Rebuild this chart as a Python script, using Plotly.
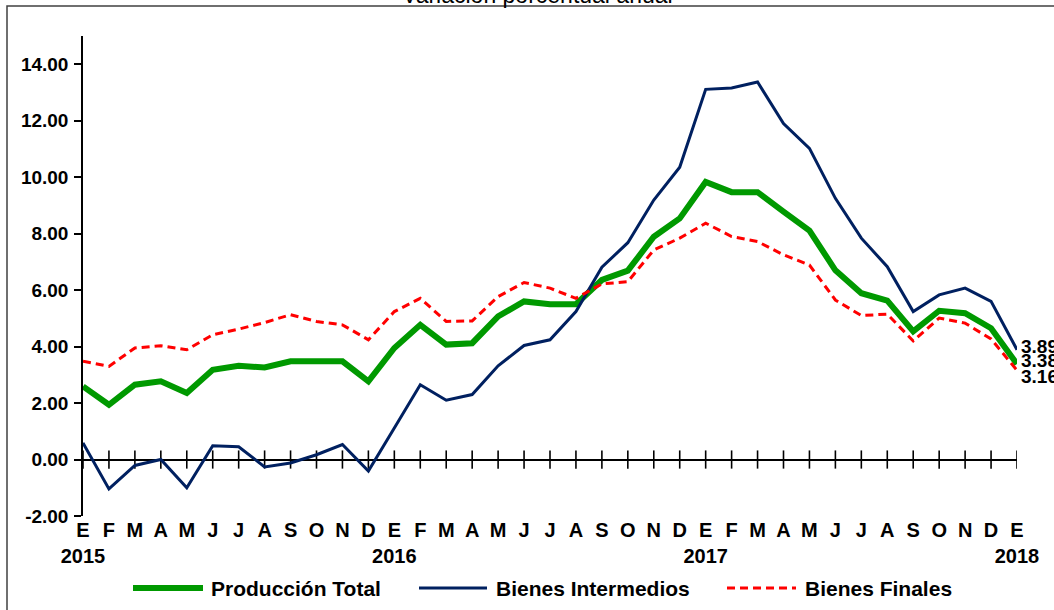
import plotly.graph_objects as go

# ---- data ----
meses = ["E", "F", "M", "A", "M", "J", "J", "A", "S", "O", "N", "D"] * 3 + ["E"]
anios = {0: "2015", 12: "2016", 24: "2017", 36: "2018"}

produccion_total = [2.59, 1.94, 2.65, 2.77, 2.36, 3.18, 3.32, 3.26, 3.48, 3.48,
                    3.48, 2.77, 3.95, 4.77, 4.07, 4.12, 5.07, 5.60, 5.50, 5.50,
                    6.36, 6.69, 7.89, 8.54, 9.83, 9.47, 9.47, 8.78, 8.11, 6.70,
                    5.89, 5.63, 4.54, 5.27, 5.18, 4.65, 3.38]
bienes_intermedios = [0.59, -1.04, -0.21, 0.00, -1.00, 0.49, 0.45, -0.26, -0.12, 0.17,
                      0.53, -0.41, 1.12, 2.65, 2.10, 2.30, 3.32, 4.04, 4.24, 5.24,
                      6.81, 7.68, 9.19, 10.35, 13.11, 13.16, 13.37, 11.90, 11.02, 9.25,
                      7.84, 6.83, 5.24, 5.83, 6.07, 5.60, 3.89]
bienes_finales = [3.48, 3.30, 3.95, 4.03, 3.89, 4.42, 4.62, 4.85, 5.13, 4.89,
                  4.77, 4.24, 5.24, 5.71, 4.89, 4.91, 5.77, 6.27, 6.07, 5.71,
                  6.22, 6.30, 7.42, 7.84, 8.37, 7.90, 7.72, 7.25, 6.89, 5.65,
                  5.10, 5.15, 4.20, 5.01, 4.83, 4.27, 3.16]
y_ticks = [-2, 0, 2, 4, 6, 8, 10, 12, 14]

x = list(range(len(meses)))
ticktext = [m + ("<br>" + anios[i] if i in anios else "") for i, m in enumerate(meses)]

FONT = "Liberation Sans, Arial, sans-serif"
GREEN = "#009900"
NAVY = "#002060"
RED = "#FF0000"

series = [
    ("Producción Total", produccion_total, dict(color=GREEN, width=6)),
    ("Bienes Intermedios", bienes_intermedios, dict(color=NAVY, width=3)),
    ("Bienes Finales", bienes_finales, dict(color=RED, width=3, dash="8px,5px")),
]

fig = go.Figure()

# tick marks crossing the zero line
fig.add_trace(go.Scatter(
    x=x, y=[0] * len(x), mode="markers", hoverinfo="skip", showlegend=False,
    marker=dict(symbol="line-ns", size=13, line=dict(color="black", width=1.6)),
))

for name, vals, line in series:
    fig.add_trace(go.Scatter(x=x, y=vals, mode="lines", name=name, line=line,
                             showlegend=False))

# layout geometry (pixels)
W, H = 1054, 610
ML, MR, MT, MB = 83, 37, 36, 94
pw, ph = W - ML - MR, H - MT - MB


def px(xp):
    return (xp - ML) / pw


def py(yp):
    return (H - MB - yp) / ph


annotations = []
shapes = []

# end labels
shifts = [4, 3, -6]
for (name, vals, line), ys in zip(series, shifts):
    annotations.append(dict(
        x=x[-1], y=vals[-1], xref="x", yref="y", text=f"<b>{vals[-1]:.2f}</b>",
        showarrow=False, xanchor="left", yanchor="middle", xshift=2, yshift=ys,
        font=dict(family=FONT, size=19, color="black"),
    ))

# manual legend
leg_y = 588
leg_items = [(133, 203, 209), (419, 487, 494), (727, 796, 803)]
for (name, vals, line), (x0, x1, xt) in zip(series, leg_items):
    shapes.append(dict(type="line", xref="paper", yref="paper",
                       x0=px(x0), x1=px(x1), y0=py(leg_y), y1=py(leg_y),
                       line=line))
    annotations.append(dict(x=px(xt), y=py(leg_y), xref="paper", yref="paper",
                            text=f"<b>{name}</b>", showarrow=False,
                            xanchor="left", yanchor="middle",
                            font=dict(family=FONT, size=21, color="black")))

# outer border box
shapes.append(dict(type="rect", xref="paper", yref="paper",
                   x0=px(7), x1=px(1100), y0=py(6), y1=py(700),
                   line=dict(color="#404040", width=1.5), layer="below"))

# title (cut off at top)
annotations.append(dict(x=px(537), y=py(-5), xref="paper", yref="paper",
                        text="Variación porcentual anual", showarrow=False,
                        xanchor="center", yanchor="middle",
                        font=dict(family=FONT, size=23, color="black")))

fig.update_layout(
    width=W, height=H,
    margin=dict(l=ML, r=MR, t=MT, b=MB),
    paper_bgcolor="white", plot_bgcolor="white",
    showlegend=False,
    font=dict(family=FONT, color="black"),
    shapes=shapes, annotations=annotations,
    xaxis=dict(range=[0, 36], tickvals=x,
               ticktext=[f"<b>{t}</b>".replace("<br>", "</b><br><b>") for t in ticktext],
               showline=False, showgrid=False, zeroline=False, ticks="",
               tickfont=dict(family=FONT, size=20, color="black"), tickangle=0),
    yaxis=dict(range=[-2, 15], tickvals=y_ticks,
               ticktext=[f"<b>{v:.2f}</b>" for v in y_ticks],
               showline=True, linecolor="black", linewidth=1.5,
               ticks="outside", ticklen=7, tickwidth=1.5, tickcolor="black",
               showgrid=False, zeroline=True, zerolinecolor="black", zerolinewidth=2,
               tickfont=dict(family=FONT, size=19, color="black"),
               ticklabelstandoff=2),
)

fig.write_html("out.html", config={"displayModeBar": False},
               post_script="document.body.style.margin='0';document.body.style.overflow='hidden';")
